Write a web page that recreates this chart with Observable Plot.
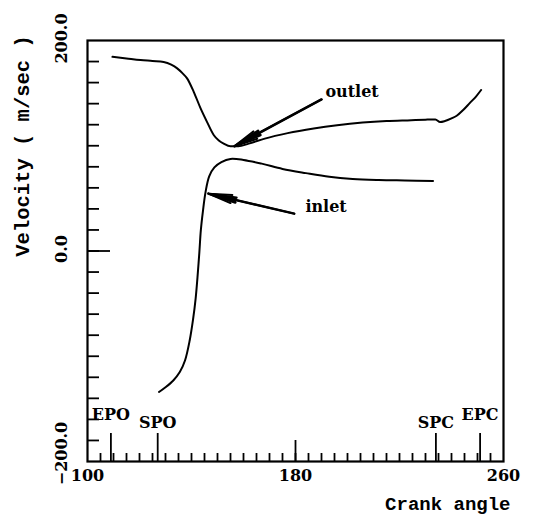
<!DOCTYPE html>
<html><head><meta charset="utf-8">
<script src="https://cdn.jsdelivr.net/npm/d3@7"></script>
<script src="https://cdn.jsdelivr.net/npm/@observablehq/plot@0.6"></script>
<style>body{margin:0;background:#fff}svg{display:block}</style>
</head><body><div id="chart"></div>
<script>
// Outlet velocity vs crank angle
const outletAngle = [109.6,115,120.4,125,129.3,132.2,134.5,136.5,138.3,140.9,143.5,146,148.6,150.5,152.4,155,158,162,168.2,177,187,196,205.8,215,224.5,230,233.8,235.6,237.5,240,242,244.5,247,249.5,251.4];
const outletVel   = [184.5,183,181.5,180.5,179.5,177,173.5,169,164,151,135.5,122.5,110,105,102,99.5,99.5,102,106.8,112,116.4,119.5,122,123.5,124.3,124.8,125,122.5,123.5,126,128.5,134,140.5,147,153];
// Inlet velocity vs crank angle
const inletAngle = [127.5,130,133,135.5,137.5,139.3,140.6,141.6,142.3,143,143.6,144.4,145.4,146.8,148.8,151.5,155,160,167,175,184,193,202,212,222,232.9];
const inletVel   = [-134,-129.5,-123,-115,-104,-85,-65,-45,-25,-2,20,38,56,71,79.5,84.5,87.5,86.5,83,78,74,70.5,68.5,67.5,67,66.5];

// Axis ticks and labels
const xTickLabels = [100, 180, 260];
const xMajorTick = [180];
const yTickValues = [200, 0, -200];
const yTickLabels = ["200.0", "0.0", "\u2212200.0"];
const yTitle = "Velocity ( m/sec )";
const xTitle = "Crank angle";

// Port timing markers
const markerNames = ["EPO", "SPO", "SPC", "EPC"];
const markerAngles = [109, 127, 234, 251];

// Annotations
const annNames = ["outlet", "inlet"];
const annTextAngle = [191.5, 183.8];
const annTextVel = [151, 42];
const arrowFromAngle = [190, 179.5];
const arrowFromVel = [144, 35.5];
const arrowToAngle = [156.5, 146.5];
const arrowToVel = [99.5, 54.5];

const outlet = outletAngle.map((a, i) => ({a, v: outletVel[i]}));
const inlet = inletAngle.map((a, i) => ({a, v: inletVel[i]}));
const markers = markerNames.map((n, i) => ({n, a: markerAngles[i]}));
const anns = annNames.map((n, i) => ({n, a: annTextAngle[i], v: annTextVel[i],
  x1: arrowFromAngle[i], y1: arrowFromVel[i], x2: arrowToAngle[i], y2: arrowToVel[i]}));
const yLabs = yTickValues.map((v, i) => ({v, t: yTickLabels[i]}));

const W = 535, H = 518, mL = 87, mR = 32, mT = 40, mB = 57;
const pw = W - mL - mR, ph = H - mT - mB;
const serif = "DejaVu Serif";
const mono = "Liberation Mono";

const minorX = d3.range(105, 260, 5);
const minorY = d3.range(-180, 200, 20);

const chart = Plot.plot({
  width: W, height: H,
  marginLeft: mL, marginRight: mR, marginTop: mT, marginBottom: mB,
  style: {background: "white", color: "black", overflow: "visible"},
  x: {domain: [100, 260], axis: null},
  y: {domain: [-200, 200], axis: null},
  marks: [
    Plot.tickX(minorX, {x: d => d, insetTop: ph - 8, stroke: "black", strokeWidth: 1.8}),
    Plot.tickX(xMajorTick, {x: d => d, insetTop: ph - 21, stroke: "black", strokeWidth: 1.8}),
    Plot.tickX(markerAngles, {x: d => d, insetTop: ph - 28, stroke: "black", strokeWidth: 1.8}),
    Plot.tickY(minorY, {y: d => d, insetRight: pw - 12, stroke: "black", strokeWidth: 1.8}),
    Plot.tickY([0], {y: d => d, insetRight: pw - 23, stroke: "black", strokeWidth: 1.8}),
    Plot.frame({stroke: "black", strokeWidth: 2.2}),
    Plot.line(outlet, {x: "a", y: "v", curve: "monotone-x", stroke: "black", strokeWidth: 2}),
    Plot.line(inlet, {x: "a", y: "v", curve: "catmull-rom", stroke: "black", strokeWidth: 2}),
    Plot.arrow(anns, {x1: "x1", y1: "y1", x2: "x2", y2: "y2", stroke: "black", strokeWidth: 2, headLength: 18, headAngle: 20}),
    Plot.arrow(anns, {x1: "x1", y1: "y1", x2: "x2", y2: "y2", stroke: "black", strokeWidth: 2.5, headLength: 17, headAngle: 10}),
    Plot.text(anns, {x: "a", y: "v", text: "n", textAnchor: "start", fontFamily: serif, fontWeight: "bold", fontSize: 16, fill: "black"}),
    Plot.text(markers.filter(d => d.n[0] === "E"), {x: "a", y: () => -200, text: "n", dy: -47, fontFamily: serif, fontWeight: "bold", fontSize: 16, fill: "black"}),
    Plot.text(markers.filter(d => d.n[0] === "S"), {x: "a", y: () => -200, text: "n", dy: -39, fontFamily: serif, fontWeight: "bold", fontSize: 16, fill: "black"}),
    Plot.text(xTickLabels, {x: d => d, y: () => -200, text: d => String(d), dy: 14, fontFamily: serif, fontWeight: "bold", fontSize: 16, fill: "black"}),
    Plot.text(yLabs.filter(d => d.v !== -200), {x: () => 100, y: "v", text: "t", rotate: -90, dx: -26, dy: -2, fontFamily: serif, fontWeight: "bold", fontSize: 16, fill: "black"}),
    Plot.text(yLabs.filter(d => d.v === -200), {x: () => 100, y: "v", text: "t", rotate: -90, dx: -26, dy: -8, fontFamily: serif, fontWeight: "bold", fontSize: 16, fill: "black"}),
    Plot.text([xTitle], {frameAnchor: "bottom-right", text: d => d, textAnchor: "end", dx: 7, dy: 48, fontFamily: mono, fontWeight: "bold", fontSize: 19, fill: "black"}),
    Plot.text([yTitle], {frameAnchor: "left", text: d => d, textAnchor: "middle", rotate: -90, dx: -65, dy: -105, fontFamily: mono, fontWeight: "bold", fontSize: 20.5, fill: "black"})
  ]
});
document.getElementById("chart").append(chart);
</script>
</body></html>
